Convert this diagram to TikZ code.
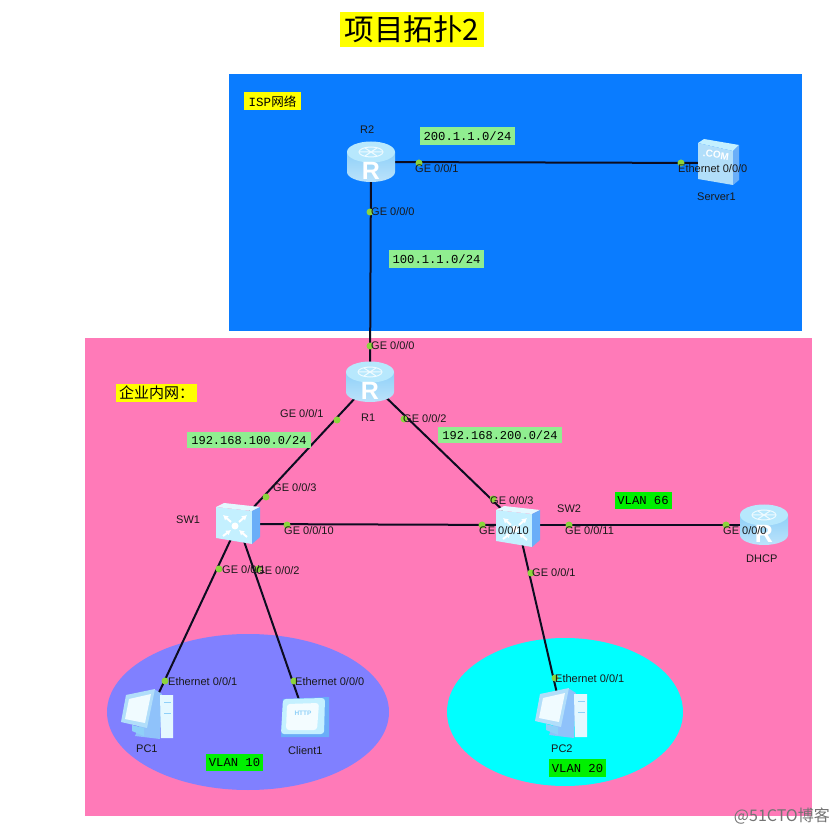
\documentclass[tikz,border=0pt]{standalone}
\usepackage{fontspec}
\usetikzlibrary{arrows.meta}
\setmainfont{Liberation Sans}
\newfontfamily\cjk{Noto Sans CJK SC}
\newfontfamily\monof{Liberation Mono}
\definecolor{ispblue}{HTML}{0A7CFF}
\definecolor{entpink}{HTML}{FF7AB8}
\definecolor{vlanone}{HTML}{8080FF}
\definecolor{vlantwo}{HTML}{00FFFF}
\definecolor{vgreen}{HTML}{00F000}
\definecolor{ybox}{HTML}{FFFF00}
\definecolor{dotgreen}{HTML}{8CD43C}
\definecolor{netgreen}{HTML}{90EE90}
\definecolor{linkdark}{HTML}{0C0C20}
\definecolor{iconlight}{HTML}{C4F0FF}
\definecolor{iconmid}{HTML}{8FD0F8}
\definecolor{iconblue}{HTML}{6AAEF8}
\tikzset{
 x=1pt,y=-1pt,
 device/.style={inner sep=0pt,minimum size=2pt},
 link/.style={draw=linkdark,line width=2pt},
 portdot/.style={circle,fill=dotgreen,inner sep=0pt,minimum size=7pt},
 lab/.style={anchor=west,inner sep=0pt,font=\fontsize{11}{11}\selectfont,text=black!90},
 netbox/.style={fill=netgreen,inner sep=0pt,minimum height=18pt,font=\monof\fontsize{12.2}{13}\selectfont},
 vlanbox/.style={fill=vgreen,inner sep=0pt,minimum height=17.5pt,minimum width=57pt,font=\monof\fontsize{12.2}{13}\selectfont},
 notebox/.style={fill=ybox,inner sep=0pt,minimum height=18pt},
 routericon/.pic={
  \shade[top color=iconmid,bottom color=iconmid!60!white] (-24,-10) -- (-24,10) arc[start angle=180,end angle=0,x radius=24,y radius=10] -- (24,-10) -- cycle;
  \fill[iconlight!75!iconmid] (0,-10) ellipse[x radius=24,y radius=10.5];
  \draw[white!70!iconlight,line width=1pt] (0,-10) ellipse[x radius=12,y radius=5];
  \draw[white!70!iconlight,line width=1pt] (-12,-10) -- (12,-10) (-6,-14) -- (6,-6) (6,-14) -- (-6,-6);
  \node[text=white,font=\bfseries\fontsize{25}{25}\selectfont,inner sep=0pt] (letter) at (0,9) {R};
 },
 switchicon/.pic={
  \fill[iconlight] (-22,-17) -- (14,-13) -- (14,20) -- (-22,14) -- cycle;
  \fill[white!55!iconlight] (-22,-17) -- (-14,-21) -- (22,-17) -- (14,-13) -- cycle;
  \fill[iconblue] (14,-13) -- (22,-17) -- (22,13) -- (14,20) -- cycle;
  \fill[white] (-3,2) circle[radius=3.5];
  \draw[white,line width=2pt,-{Latex[length=5pt,width=6pt]}] (-7,-2) -- (-15,-9);
  \draw[white,line width=2pt,-{Latex[length=5pt,width=6pt]}] (1,-2) -- (9,-9);
  \draw[white,line width=2pt,-{Latex[length=5pt,width=6pt]}] (-15,12) -- (-7,6);
  \draw[white,line width=2pt,-{Latex[length=5pt,width=6pt]}] (9,13) -- (1,6);
 },
 servericon/.pic={
  \fill[iconmid!70!white] (-20,-22) -- (15,-14) -- (15,20) -- (-20,14) -- cycle;
  \fill[iconlight] (-20,-22) -- (-14,-26) -- (21,-20) -- (15,-14) -- cycle;
  \fill[iconblue] (15,-14) -- (21,-20) -- (21,15) -- (15,20) -- cycle;
  \node[text=white,font=\bfseries\fontsize{10}{10}\selectfont,inner sep=0pt,rotate=-8] (dotcom) at (-2,-10) {.COM};
 },
 pcicon/.pic={
  \fill[iconblue!75!white] (6,-27) -- (-13,20) -- (12,23) -- (14,-22) -- cycle;
  \fill[white!55!iconlight] (12,-21) -- (25,-21) -- (25,22) -- (13,22) -- cycle;
  \draw[iconmid,line width=.6pt] (16,-14) -- (23,-14) (16,-3) -- (23,-3);
  \fill[iconmid!70!white] (-22,-21) -- (7,-27) -- (-1,12) -- (-27,6) -- cycle;
  \fill[white!75!iconlight] (-19,-17) -- (3,-22) -- (-3,7) -- (-23,3) -- cycle;
  \fill[iconmid] (-16,9) -- (-4,12) -- (-4,20) -- (-16,15) -- cycle;
 },
 clienticon/.pic={
  \fill[iconblue] (-22,-18) -- (24,-20) -- (24,20) -- (-24,20) -- cycle;
  \fill[iconlight,rounded corners=3pt] (-22,-18) -- (20,-19) -- (19,17) -- (-24,17) -- cycle;
  \fill[white!80!iconlight,rounded corners=3pt] (-18,-13) -- (14,-14) -- (12,13) -- (-19,13) -- cycle;
  \node[text=iconmid,font=\bfseries\fontsize{6.5}{6.5}\selectfont,inner sep=0pt] (http) at (-2,-4) {HTTP};
 },
}
\begin{document}
\begin{tikzpicture}
\useasboundingbox (0,0) rectangle (839,834);
% areas
\fill[ispblue] (229,74) rectangle (802,331);
\fill[entpink] (85,338) rectangle (812,816);
\fill[vlanone] (248,712) ellipse[x radius=141,y radius=78];
\fill[vlantwo] (565,712) ellipse[x radius=118,y radius=74];
% device anchors
\node[device] (R2) at (371,162) {};
\node[device] (Server) at (718,163) {};
\node[device] (R1) at (370,382) {};
\node[device] (SW1) at (238,524) {};
\node[device] (SW2) at (518,525) {};
\node[device] (DHCP) at (764,525) {};
\node[device] (PC1) at (148,716) {};
\node[device] (Client) at (305,717) {};
\node[device] (PC2) at (562,715) {};
% links
\draw[link] (R2.center) -- (Server.center);
\draw[link] (R2.center) -- (R1.center);
\draw[link] (R1.center) -- (SW1.center);
\draw[link] (R1.center) -- (SW2.center);
\draw[link] (SW1.center) -- (SW2.center);
\draw[link] (SW2.center) -- (DHCP.center);
\draw[link] (SW1.center) -- (PC1.center);
\draw[link] (SW1.center) -- (Client.center);
\draw[link] (SW2.center) -- (PC2.center);
% icons
\pic at (R2) {routericon};
\pic at (R1) {routericon};
\pic at (DHCP) {routericon};
\pic at (SW1) {switchicon};
\pic at (518,527) {switchicon};
\pic at (718,165) {servericon};
\pic at (PC1) {pcicon};
\pic at (PC2) {pcicon};
\pic at (Client) {clienticon};
% port dots
\node[portdot] (d1) at (419,163) {};
\node[portdot] (d2) at (370,212) {};
\node[portdot] (d3) at (681,163) {};
\node[portdot] (d4) at (370,346) {};
\node[portdot] (d5) at (337,420) {};
\node[portdot] (d6) at (404,419) {};
\node[portdot] (d7) at (266,497) {};
\node[portdot] (d8) at (287,525) {};
\node[portdot] (d9) at (219,569) {};
\node[portdot] (d10) at (258,569) {};
\node[portdot] (d11) at (493,499) {};
\node[portdot] (d12) at (482,525) {};
\node[portdot] (d13) at (569,525) {};
\node[portdot] (d14) at (531,573) {};
\node[portdot] (d15) at (726,525) {};
\node[portdot] (d16) at (165,681) {};
\node[portdot] (d17) at (294,681) {};
\node[portdot] (d18) at (555,678) {};
% labels
\node[lab] (l1) at (415,169) {GE 0/0/1};
\node[lab] (l2) at (371,212) {GE 0/0/0};
\node[lab] (l3) at (678,169) {Ethernet 0/0/0};
\node[lab] (l4) at (697,197) {Server1};
\node[lab] (l5) at (360,130) {R2};
\node[lab] (l6) at (371,346) {GE 0/0/0};
\node[lab] (l7) at (280,414) {GE 0/0/1};
\node[lab] (l8) at (361,418) {R1};
\node[lab] (l9) at (403,419) {GE 0/0/2};
\node[lab] (l10) at (176,520) {SW1};
\node[lab] (l11) at (273,488) {GE 0/0/3};
\node[lab] (l12) at (284,531) {GE 0/0/10};
\node[lab] (l13) at (222,570) {GE 0/0/1};
\node[lab] (l14) at (256,571) {GE 0/0/2};
\node[lab] (l15) at (490,501) {GE 0/0/3};
\node[lab] (l16) at (557,509) {SW2};
\node[lab] (l17) at (479,531) {GE 0/0/10};
\node[lab] (l18) at (565,531) {GE 0/0/11};
\node[lab] (l19) at (532,573) {GE 0/0/1};
\node[lab] (l20) at (723,531) {GE 0/0/0};
\node[lab] (l21) at (746,559) {DHCP};
\node[lab] (l22) at (168,682) {Ethernet 0/0/1};
\node[lab] (l23) at (295,682) {Ethernet 0/0/0};
\node[lab] (l24) at (136,749) {PC1};
\node[lab] (l25) at (288,751) {Client1};
\node[lab] (l26) at (551,749) {PC2};
\node[lab] (l27) at (555,679) {Ethernet 0/0/1};
% boxes
\node[netbox,minimum width=95pt] (n1) at (467.5,136) {200.1.1.0/24};
\node[netbox,minimum width=95pt] (n2) at (436.5,259.5) {100.1.1.0/24};
\node[netbox,minimum width=124pt,minimum height=16.5pt,font=\monof\fontsize{12}{13}\selectfont] (n3) at (249,440) {192.168.100.0/24};
\node[netbox,minimum width=124pt,minimum height=16.5pt,font=\monof\fontsize{12}{13}\selectfont] (n4) at (500,435) {192.168.200.0/24};
\node[vlanbox] (v1) at (234.5,762.5) {VLAN 10};
\node[vlanbox] (v2) at (577.5,768) {VLAN 20};
\node[vlanbox] (v3) at (643,500.5) {VLAN 66};
\node[notebox,minimum width=57pt,font=\fontsize{12.5}{13}\selectfont] (t1) at (272.5,101.5) {\monof ISP\cjk 网络};
\node[notebox,minimum width=81pt,font=\cjk\fontsize{15}{15}\selectfont] (t2) at (156.5,393) {企业内网：};
\node[fill=ybox,inner sep=0pt,minimum width=144pt,minimum height=35pt,font=\cjk\fontsize{29.5}{30}\selectfont] (title) at (412,29.5) {项目拓扑2};
\node[anchor=east,inner sep=0pt,text=black!55,font=\cjk\fontsize{16}{16}\selectfont] (wm) at (830,816) {@51CTO博客};
\end{tikzpicture}
\end{document}
